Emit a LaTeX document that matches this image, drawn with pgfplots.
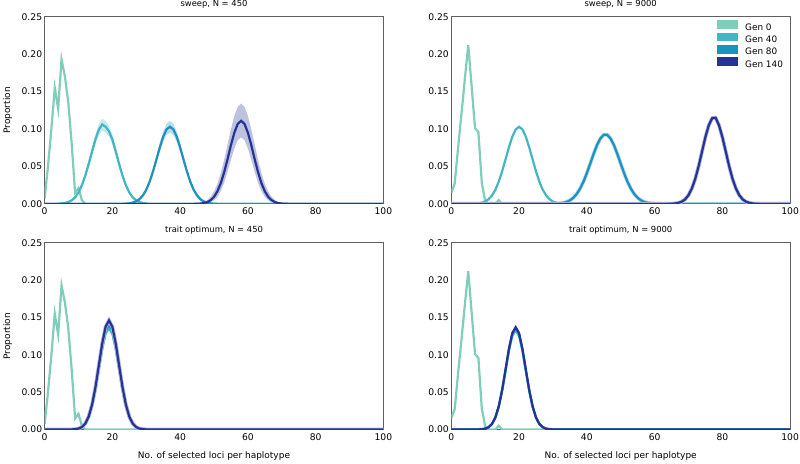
\documentclass[border=0pt]{standalone}
\usepackage{fontspec}
\setmainfont{DejaVu Sans}
\usepackage{pgfplots}
\pgfplotsset{compat=1.18}
\usepackage{pgfplotstable}
\usepgfplotslibrary{fillbetween}

\definecolor{cA}{HTML}{7FCDBB}
\definecolor{cB}{HTML}{41B6C4}
\definecolor{cC}{HTML}{1D91C0}
\definecolor{cD}{HTML}{253494}
\definecolor{frameC}{HTML}{606060}

% Gen 0, N = 450
\pgfplotstableread{
x y
0 0.007
1 0.05
2 0.10
3 0.155
4 0.127
5 0.193
6 0.17
7 0.135
8 0.08
9 0.015
10 0.021
11 0.005
12 0
100 0
}\gzA
% Gen 0, N = 9000
\pgfplotstableread{
x y
0 0.015
1 0.027
2 0.075
3 0.12
4 0.167
5 0.212
6 0.157
7 0.101
8 0.096
9 0.028
10 0.004
11 0
13 0
14 0.005
15 0
100 0
}\gzB
% sweep N=450 Gen 40
\pgfplotstableread{
x y lo hi
0 0 0 0
4 0 0 0
5 0.0005 0 0.001
6 0.0011 0 0.002
7 0.0024 0.0008 0.004
8 0.0047 0.003 0.0065
9 0.0088 0.0068 0.0108
10 0.0153 0.0129 0.0177
11 0.0248 0.0218 0.0278
12 0.0376 0.0339 0.0413
13 0.0531 0.0484 0.0578
14 0.070 0.0643 0.0757
15 0.0861 0.0794 0.0928
16 0.099 0.0916 0.1064
17 0.106 0.0981 0.1139
18 0.103 0.0953 0.1107
19 0.097 0.0897 0.1043
20 0.0861 0.0794 0.0928
21 0.070 0.0643 0.0757
22 0.0531 0.0484 0.0578
23 0.0376 0.0339 0.0413
24 0.0248 0.0218 0.0278
25 0.0153 0.0129 0.0177
26 0.0088 0.0068 0.0108
27 0.0047 0.003 0.0065
28 0.0024 0.0008 0.004
29 0.0011 0 0.002
30 0.0005 0 0.001
31 0 0 0
100 0 0 0
}\swAa
% sweep N=450 Gen 80
\pgfplotstableread{
x y lo hi
0 0 0 0
23 0 0 0
24 0.0003 0 0.0008
25 0.0007 0 0.0014
26 0.0016 0 0.0032
27 0.0032 0.0015 0.0049
28 0.0062 0.0043 0.0081
29 0.0112 0.0090 0.0134
30 0.0188 0.0162 0.0214
31 0.0296 0.0263 0.0329
32 0.0434 0.0393 0.0475
33 0.0592 0.0541 0.0643
34 0.0754 0.0694 0.0814
35 0.0897 0.0828 0.0966
36 0.0995 0.0920 0.1070
37 0.103 0.0953 0.1107
38 0.0995 0.0920 0.1070
39 0.0897 0.0828 0.0966
40 0.0754 0.0694 0.0814
41 0.0592 0.0541 0.0643
42 0.0434 0.0393 0.0475
43 0.0296 0.0263 0.0329
44 0.0188 0.0162 0.0214
45 0.0112 0.0090 0.0134
46 0.0062 0.0043 0.0081
47 0.0032 0.0015 0.0049
48 0.0016 0 0.0032
49 0.0007 0 0.0014
50 0.0003 0 0.0008
51 0 0 0
100 0 0 0
}\swAb
% sweep N=450 Gen 140
\pgfplotstableread{
x y lo hi
0 0 0 0
44 0 0 0
45 0.0002 0 0.0005
46 0.0004 0.0001 0.0012
47 0.0010 0.0003 0.0025
48 0.0023 0.0009 0.0050
49 0.0049 0.0022 0.0094
50 0.0094 0.0047 0.0163
51 0.0168 0.0093 0.0268
52 0.0276 0.0170 0.0410
53 0.0423 0.0282 0.0590
54 0.0598 0.0427 0.0792
55 0.0785 0.0589 0.0997
56 0.0951 0.0740 0.1175
57 0.1068 0.0850 0.1297
58 0.111 0.089 0.134
59 0.1068 0.0850 0.1297
60 0.0951 0.0740 0.1175
61 0.0785 0.0589 0.0997
62 0.0598 0.0427 0.0792
63 0.0423 0.0282 0.0590
64 0.0276 0.0170 0.0410
65 0.0168 0.0093 0.0268
66 0.0094 0.0047 0.0163
67 0.0049 0.0022 0.0094
68 0.0023 0.0009 0.0050
69 0.0010 0.0003 0.0025
70 0.0004 0.0001 0.0012
71 0.0002 0 0.0005
72 0 0 0
100 0 0 0
}\swAc
% sweep N=9000 Gen 40
\pgfplotstableread{
x y
0 0
6 0
7 0.0003
8 0.0007
9 0.0016
10 0.0032
11 0.0062
12 0.0112
13 0.0188
14 0.0296
15 0.0434
16 0.0592
17 0.0754
18 0.0897
19 0.0995
20 0.103
21 0.0995
22 0.0897
23 0.0754
24 0.0592
25 0.0434
26 0.0296
27 0.0188
28 0.0112
29 0.0062
30 0.0032
31 0.0016
32 0.0007
33 0.0003
34 0
100 0
}\swBa
% sweep N=9000 Gen 80
\pgfplotstableread{
x y
0 0
30 0
31 0.0003
32 0.0007
33 0.0014
34 0.0026
35 0.0047
36 0.0081
37 0.0132
38 0.0203
39 0.0296
40 0.0410
41 0.0537
42 0.0667
43 0.0785
44 0.0874
45 0.0923
46 0.0923
47 0.0874
48 0.0785
49 0.0667
50 0.0537
51 0.0410
52 0.0296
53 0.0203
54 0.0132
55 0.0081
56 0.0047
57 0.0026
58 0.0014
59 0.0007
60 0.0003
61 0
100 0
}\swBb
% sweep N=9000 Gen 140
\pgfplotstableread{
x y
0 0
64 0
65 0.0002
66 0.0005
67 0.0013
68 0.0029
69 0.0060
70 0.0116
71 0.0205
72 0.0335
73 0.0504
74 0.0699
75 0.0893
76 0.1051
77 0.1145
78 0.1150
79 0.1051
80 0.0893
81 0.0699
82 0.0504
83 0.0335
84 0.0205
85 0.0116
86 0.0060
87 0.0029
88 0.0013
89 0.0005
90 0.0002
91 0
100 0
}\swBc
% trait optimum N=450: Gen 40, 80, 140
\pgfplotstableread{
x a b c
0 0 0 0
7 0 0 0
8 0.0001 0.0001 0.0001
9 0.0004 0.0004 0.0004
10 0.0011 0.0011 0.0012
11 0.0030 0.0031 0.0033
12 0.0074 0.0076 0.0079
13 0.0160 0.0165 0.0172
14 0.0308 0.0317 0.0330
15 0.0525 0.0541 0.0564
16 0.0796 0.0820 0.0855
17 0.1072 0.1103 0.1150
18 0.1281 0.1319 0.1375
19 0.136 0.140 0.146
20 0.1281 0.1319 0.1375
21 0.1072 0.1103 0.1150
22 0.0796 0.0820 0.0855
23 0.0525 0.0541 0.0564
24 0.0308 0.0317 0.0330
25 0.0160 0.0165 0.0172
26 0.0074 0.0076 0.0079
27 0.0030 0.0031 0.0033
28 0.0011 0.0011 0.0012
29 0.0004 0.0004 0.0004
30 0.0001 0.0001 0.0001
31 0 0 0
100 0 0 0
}\toA
% trait optimum N=9000: Gen 40, 80, 140
\pgfplotstableread{
x a b c
0 0 0 0
7 0 0 0
8 0.0001 0.0001 0.0001
9 0.0003 0.0004 0.0004
10 0.0011 0.0011 0.0011
11 0.0030 0.0030 0.0031
12 0.0072 0.0074 0.0074
13 0.0156 0.0160 0.0161
14 0.0301 0.0308 0.0310
15 0.0514 0.0525 0.0529
16 0.0779 0.0796 0.0802
17 0.1048 0.1072 0.1080
18 0.1253 0.1281 0.1291
19 0.133 0.136 0.137
20 0.1253 0.1281 0.1291
21 0.1048 0.1072 0.1080
22 0.0779 0.0796 0.0802
23 0.0514 0.0525 0.0529
24 0.0301 0.0308 0.0310
25 0.0156 0.0160 0.0161
26 0.0072 0.0074 0.0074
27 0.0030 0.0030 0.0031
28 0.0011 0.0011 0.0011
29 0.0003 0.0004 0.0004
30 0.0001 0.0001 0.0001
31 0 0 0
100 0 0 0
}\toB

\pgfplotsset{
  panel/.style={
    scale only axis, width=339.4pt, height=187.5pt,
    xmin=0, xmax=100, ymin=0, ymax=0.25,
    xtick={0,20,40,60,80,100},
    ytick={0,0.05,0.1,0.15,0.2,0.25},
    major tick length=0pt,
    axis line style={draw=frameC, line width=1pt},
    tick label style={font=\fontsize{9.2}{10}\selectfont},
    /pgf/number format/assume math mode=true,
    y tick label style={/pgf/number format/fixed, /pgf/number format/fixed zerofill, /pgf/number format/precision=2},
    xticklabel style={anchor=north, inner sep=0pt, yshift=-3.7pt},
    yticklabel style={anchor=east, inner sep=0pt, xshift=-2.3pt},
    title style={font=\fontsize{8.4}{9}\selectfont, anchor=base, at={(0.5,1)}, yshift=4.5pt, inner sep=0pt},
    every axis y label/.style={at={(axis description cs:-0.109,0.5)}, rotate=90, anchor=center, font=\fontsize{9}{10}\selectfont},
    every axis x label/.style={at={(axis description cs:0.5,-0.154)}, anchor=base, font=\fontsize{9}{10}\selectfont},
    every axis plot/.append style={line width=2.2pt},
  },
  band/.style={draw=none, fill=#1, fill opacity=0.3},
  halo/.style={draw=#1!35, line width=3.8pt},
}

\begin{document}
\begin{tikzpicture}
\path (0,0) rectangle (800pt,460pt);

% ---------- top left ----------
\begin{axis}[panel, at={(43.3pt,260pt)}, anchor=south west,
  title={sweep, N = 450}, ylabel={Proportion}]
\addplot[cA] table[x=x,y=y]{\gzA};
\addplot[name path=a1, draw=none] table[x=x,y=hi]{\swAa};
\addplot[name path=b1, draw=none] table[x=x,y=lo]{\swAa};
\addplot[band=cB] fill between[of=a1 and b1];
\addplot[cB] table[x=x,y=y]{\swAa};
\addplot[name path=a2, draw=none] table[x=x,y=hi]{\swAb};
\addplot[name path=b2, draw=none] table[x=x,y=lo]{\swAb};
\addplot[band=cC] fill between[of=a2 and b2];
\addplot[cC] table[x=x,y=y]{\swAb};
\addplot[name path=a3, draw=none] table[x=x,y=hi]{\swAc};
\addplot[name path=b3, draw=none] table[x=x,y=lo]{\swAc};
\addplot[band=cD] fill between[of=a3 and b3];
\addplot[cD] table[x=x,y=y]{\swAc};
\end{axis}

% ---------- top right ----------
\begin{axis}[panel, at={(450.7pt,260pt)}, anchor=south west,
  title={sweep, N = 9000},
  legend cell align=left,
  legend style={draw=none, fill=none, at={(1,1)}, anchor=north east,
    xshift=-7pt, yshift=-3.4pt, inner sep=0pt, row sep=0.6pt, column sep=7pt,
    font=\fontsize{8.9}{10}\selectfont, nodes={inner sep=0pt}}]
\addlegendimage{legend image code/.code={\fill[cA] (0pt,-0.2pt) rectangle (19pt,6.5pt);}}
\addlegendimage{legend image code/.code={\fill[cB] (0pt,-0.2pt) rectangle (19pt,6.5pt);}}
\addlegendimage{legend image code/.code={\fill[cC] (0pt,-0.2pt) rectangle (19pt,6.5pt);}}
\addlegendimage{legend image code/.code={\fill[cD] (0pt,-0.2pt) rectangle (19pt,6.5pt);}}
\addplot[cA] table[x=x,y=y]{\gzB};
\addplot[cB] table[x=x,y=y]{\swBa};
\addplot[halo=cC] table[x=x,y=y]{\swBb};
\addplot[cC] table[x=x,y=y]{\swBb};
\addplot[halo=cD] table[x=x,y=y]{\swBc};
\addplot[cD] table[x=x,y=y]{\swBc};
\legend{Gen 0, Gen 40, Gen 80, Gen 140}
\end{axis}

% ---------- bottom left ----------
\begin{axis}[panel, at={(43.3pt,34pt)}, anchor=south west, height=187pt,
  title={trait optimum, N = 450}, ylabel={Proportion},
  xlabel={No. of selected loci per haplotype}]
\addplot[cA] table[x=x,y=y]{\gzA};
\addplot[cB] table[x=x,y=a]{\toA};
\addplot[cC] table[x=x,y=b]{\toA};
\addplot[halo=cD] table[x=x,y=c]{\toA};
\addplot[cD] table[x=x,y=c]{\toA};
\end{axis}

% ---------- bottom right ----------
\begin{axis}[panel, at={(450.7pt,34pt)}, anchor=south west, height=187pt,
  title={trait optimum, N = 9000},
  xlabel={No. of selected loci per haplotype}]
\addplot[cA] table[x=x,y=y]{\gzB};
\addplot[cB] table[x=x,y=a]{\toB};
\addplot[cC] table[x=x,y=b]{\toB};
\addplot[cD] table[x=x,y=c]{\toB};
\end{axis}
\end{tikzpicture}
\end{document}
